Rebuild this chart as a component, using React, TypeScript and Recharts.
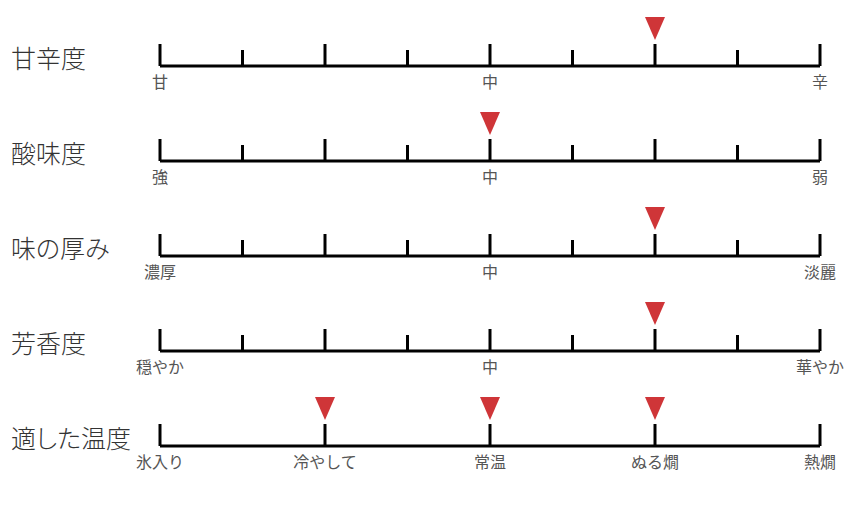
import { ScatterChart, Scatter, XAxis, YAxis } from 'recharts'

const rowTitles = ['甘辛度', '酸味度', '味の厚み', '芳香度', '適した温度']

const scaleTicks = [
  [0, 1, 2, 3, 4, 5, 6, 7, 8],
  [0, 1, 2, 3, 4, 5, 6, 7, 8],
  [0, 1, 2, 3, 4, 5, 6, 7, 8],
  [0, 1, 2, 3, 4, 5, 6, 7, 8],
  [0, 2, 4, 6, 8],
]

const tickLabels = [
  ['甘', '', '', '', '中', '', '', '', '辛'],
  ['強', '', '', '', '中', '', '', '', '弱'],
  ['濃厚', '', '', '', '中', '', '', '', '淡麗'],
  ['穏やか', '', '', '', '中', '', '', '', '華やか'],
  ['氷入り', '冷やして', '常温', 'ぬる燗', '熱燗'],
]

const markerValues = [[6], [4], [6], [6], [2, 4, 6]]

const FONT = '"Noto Sans CJK JP", "Noto Sans", sans-serif'
const RED = '#cf3538'

function ScaleTick({ x, y, payload, labels, ticks }: any) {
  const v = payload.value
  const major = v % 2 === 0
  const label = labels[ticks.indexOf(v)] || ''
  return (
    <g>
      <line x1={x} x2={x} y1={y} y2={y - (major ? 22 : 16)} stroke="#000" strokeWidth={3} />
      {label && (
        <text x={x} y={y + 22} textAnchor="middle" fill="#555" fontSize={16} fontFamily={FONT}>
          {label}
        </text>
      )}
    </g>
  )
}

function Marker({ cx, cy }: any) {
  // triangle sits just above the major tick
  const tip = cy - 26
  return <polygon points={`${cx - 10},${tip - 23} ${cx + 10},${tip - 23} ${cx},${tip}`} fill={RED} />
}

function ScaleRow({ index }: { index: number }) {
  const data = markerValues[index].map((x) => ({ x, y: 0 }))
  return (
    <div style={{ position: 'relative', width: 850, height: 95 }}>
      <div
        style={{
          position: 'absolute',
          left: 11,
          top: 40,
          fontSize: 25,
          fontWeight: 300,
          lineHeight: '34px',
          color: '#333',
          fontFamily: FONT,
          fontFeatureSettings: '"palt"',
          whiteSpace: 'nowrap',
        }}
      >
        {rowTitles[index]}
      </div>
      <ScatterChart width={850} height={95} margin={{ top: 10, right: 30, bottom: 0, left: 160 }}>
        <XAxis
          type="number"
          dataKey="x"
          domain={[0, 8]}
          ticks={scaleTicks[index]}
          interval={0}
          height={29}
          tickSize={0}
          tickMargin={0}
          axisLine={{ stroke: '#000', strokeWidth: 3 }}
          tickLine={false}
          tick={<ScaleTick labels={tickLabels[index]} ticks={scaleTicks[index]} />}
        />
        <YAxis type="number" dataKey="y" domain={[0, 1]} hide width={0} />
        <Scatter data={data} shape={<Marker />} isAnimationActive={false} />
      </ScatterChart>
    </div>
  )
}

export default function App() {
  return (
    <div style={{ position: 'absolute', left: 0, top: 0, width: 850, height: 506, background: '#fff' }}>
      {rowTitles.map((_, i) => (
        <ScaleRow key={i} index={i} />
      ))}
    </div>
  )
}
